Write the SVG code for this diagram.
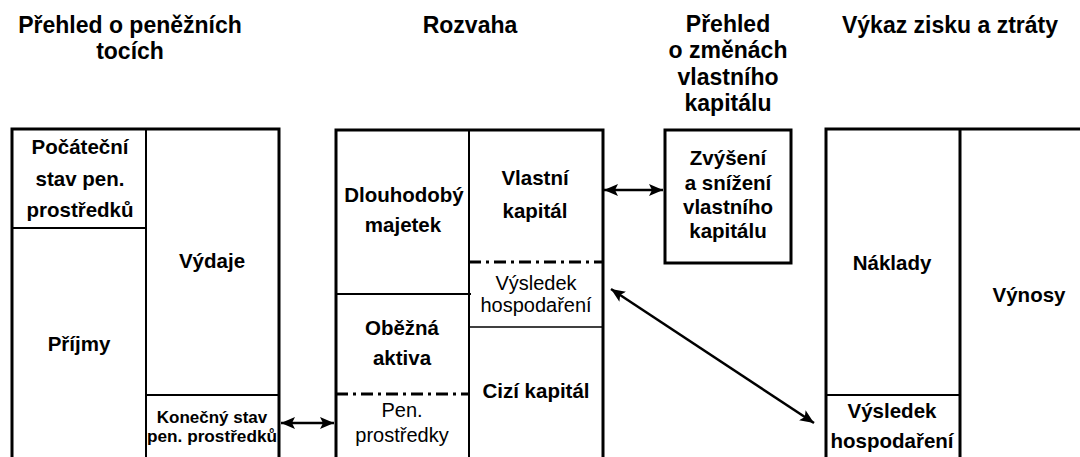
<svg xmlns="http://www.w3.org/2000/svg" width="1080" height="457" viewBox="0 0 1080 457">
<style>
text{font-family:"Liberation Sans",Arial,sans-serif;fill:#000;text-anchor:middle}
.h{font-size:23px;font-weight:bold}
.b{font-size:20.5px;font-weight:bold}
.r{font-size:20px}
.s{font-size:17px;font-weight:bold}
.o{stroke:#000;stroke-width:3;fill:none}
.i{stroke:#000;stroke-width:2;fill:none}
.t{stroke:#000;stroke-width:1.5;fill:none}
.d{stroke:#000;stroke-width:3;fill:none;stroke-dasharray:12 5 3 5}
.c{stroke:#000;stroke-width:2.5;fill:none}
</style>
<defs>
<marker id="ah" viewBox="0 0 14 12" refX="14" refY="6" markerWidth="14" markerHeight="12" markerUnits="userSpaceOnUse" orient="auto-start-reverse">
<path d="M0,0 L14,6 L0,12 L3,6 Z" fill="#000"/>
</marker>
</defs>
<rect width="1080" height="457" fill="#fff"/>

<g id="titles">
<text class="h" x="130" y="33">Přehled o peněžních</text>
<text class="h" x="130" y="59">tocích</text>
<text class="h" x="470" y="33">Rozvaha</text>
<text class="h" x="728" y="32">Přehled</text>
<text class="h" x="728" y="58">o změnách</text>
<text class="h" x="728" y="85">vlastního</text>
<text class="h" x="728" y="111">kapitálu</text>
<text class="h" x="950" y="33">Výkaz zisku a ztráty</text>
</g>

<g id="cashflow">
<path class="o" d="M12,457 V129 H279 V457"/>
<path class="i" d="M146,129 V457 M12,228 H146 M146,395 H279"/>
<g id="pocatecni"><text class="b" x="80" y="154">Počáteční</text><text class="b" x="80" y="186">stav pen.</text><text class="b" x="80" y="217">prostředků</text></g>
<g id="vydaje"><text class="b" x="212" y="268">Výdaje</text></g>
<g id="prijmy"><text class="b" x="79" y="351">Příjmy</text></g>
<g id="konecny"><text class="s" x="212" y="423">Konečný stav</text><text class="s" x="212" y="442" textLength="130" lengthAdjust="spacingAndGlyphs">pen. prostředků</text></g>
</g>

<g id="rozvaha">
<path class="o" d="M336,457 V130 H603 V457"/>
<path class="i" d="M469,130 V457 M336,294 H471"/>
<path class="t" d="M469,327 H603"/>
<path class="d" d="M469,262 H603 M336,394 H469"/>
<g id="dlouhodoby"><text class="b" x="404" y="202">Dlouhodobý</text><text class="b" x="403" y="232">majetek</text></g>
<g id="vlastni"><text class="b" x="535" y="185">Vlastní</text><text class="b" x="535" y="218">kapitál</text></g>
<g id="vysledek-r"><text class="r" x="536" y="290">Výsledek</text><text class="r" x="536" y="312">hospodaření</text></g>
<g id="obezna"><text class="b" x="402" y="335">Oběžná</text><text class="b" x="402" y="365">aktiva</text></g>
<g id="pen"><text class="r" x="402" y="417">Pen.</text><text class="r" x="402" y="442">prostředky</text></g>
<g id="cizi"><text class="b" x="536" y="398">Cizí kapitál</text></g>
</g>

<g id="zmeny">
<rect class="o" x="665" y="130" width="126" height="133"/>
<text class="b" x="728" y="165">Zvýšení</text>
<text class="b" x="728" y="190">a snížení</text>
<text class="b" x="728" y="214">vlastního</text>
<text class="b" x="728" y="238">kapitálu</text>
</g>

<g id="vykaz">
<path class="o" d="M826,457 V129 H1080"/>
<path class="o" d="M960,129 V457"/>
<path class="i" d="M826,395 H960"/>
<g id="naklady"><text class="b" x="892" y="270">Náklady</text></g>
<g id="vynosy"><text class="b" x="1029" y="302">Výnosy</text></g>
<g id="vysledek-v"><text class="b" x="892" y="418">Výsledek</text><text class="b" x="892" y="448">hospodaření</text></g>
</g>

<g id="connectors">
<line class="c" x1="281" y1="423" x2="334" y2="423" marker-start="url(#ah)" marker-end="url(#ah)"/>
<line class="c" x1="604" y1="190" x2="663" y2="190" marker-start="url(#ah)" marker-end="url(#ah)"/>
<line class="c" x1="611" y1="289" x2="814" y2="423" marker-start="url(#ah)" marker-end="url(#ah)"/>
</g>
</svg>
